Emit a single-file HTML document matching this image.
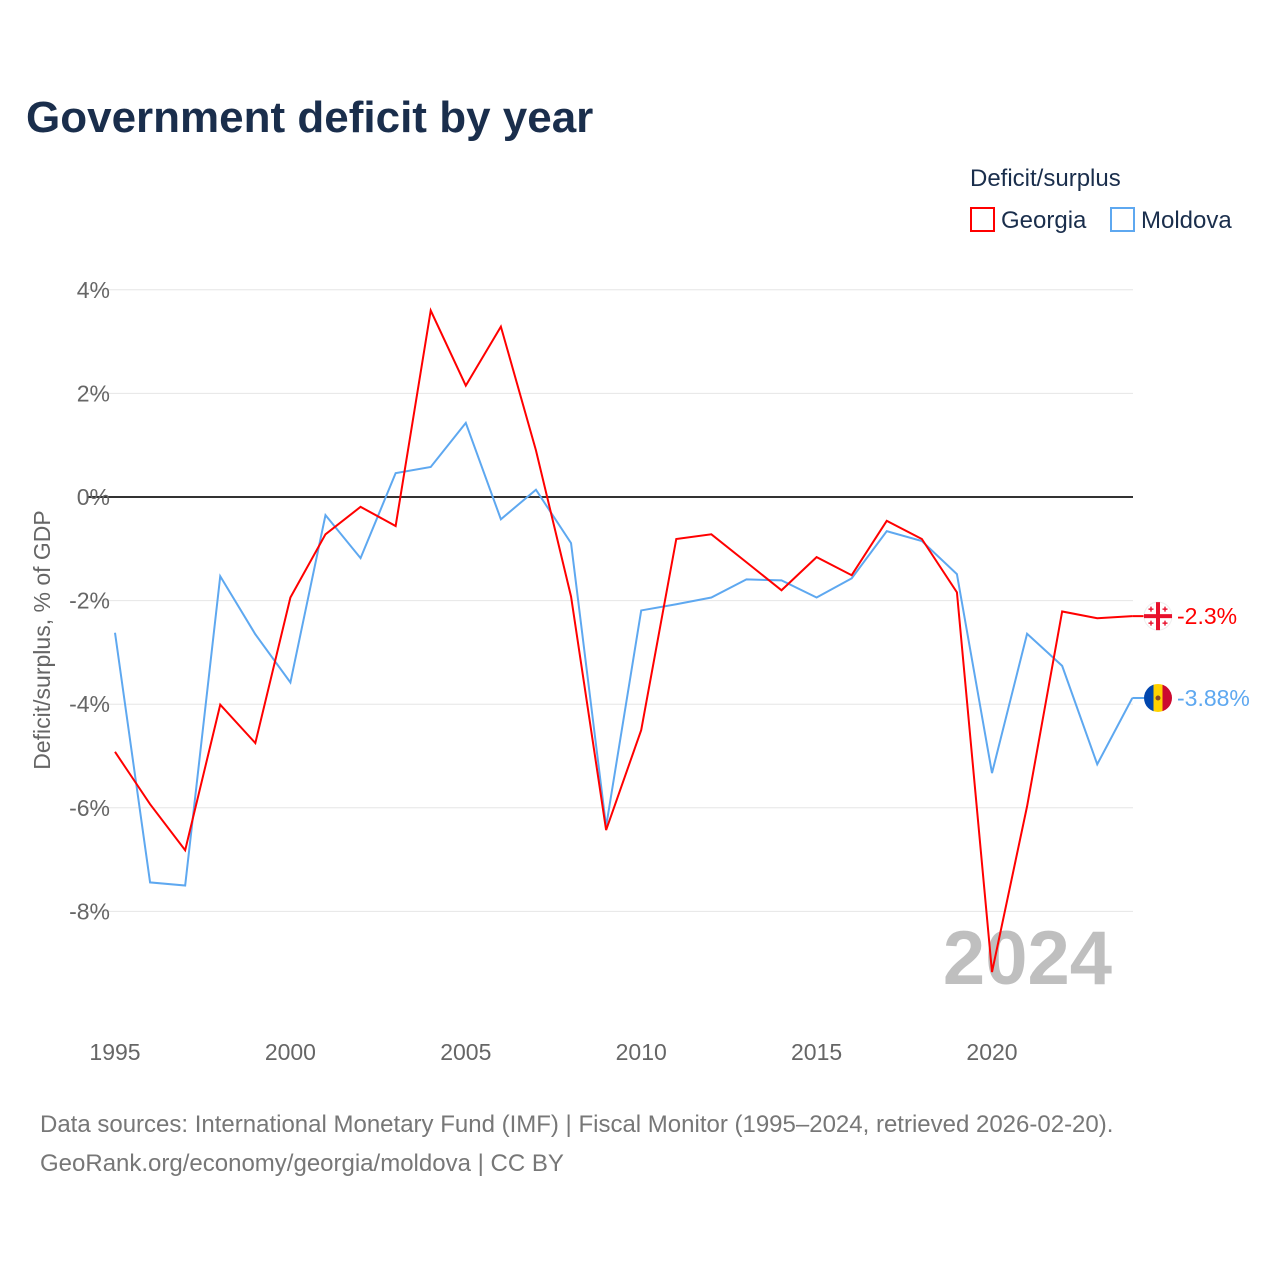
<!DOCTYPE html>
<html><head><meta charset="utf-8"><style>
body{margin:0;background:#fff;font-family:"Liberation Sans",sans-serif;}
</style></head><body>
<svg width="1280" height="1280" xmlns="http://www.w3.org/2000/svg" id="svg">
<rect width="1280" height="1280" fill="#fff"/>
<text x="26" y="132" font-size="44" font-weight="bold" fill="#1a2e4c">Government deficit by year</text>
<text x="970" y="186" font-size="24" fill="#1a2e4c">Deficit/surplus</text>
<g><rect x="971" y="208" width="23" height="23" fill="none" stroke="#ff0000" stroke-width="2"/><text x="1001" y="228" font-size="24" fill="#1a2e4c">Georgia</text></g>
<g><rect x="1111" y="208" width="23" height="23" fill="none" stroke="#5ea8f0" stroke-width="2"/><text x="1141" y="228" font-size="24" fill="#1a2e4c">Moldova</text></g>
<text x="1112" y="984" font-size="76" font-weight="bold" fill="#bfbfbf" text-anchor="end">2024</text>
<g id="grid"></g><g id="lines"></g>
<text transform="translate(50,640) rotate(-90)" font-size="23" fill="#666" text-anchor="middle">Deficit/surplus, % of GDP</text>
<text x="40" y="1132" font-size="24" fill="#777">Data sources: International Monetary Fund (IMF) | Fiscal Monitor (1995–2024, retrieved 2026-02-20).</text>
<text x="40" y="1171" font-size="24" fill="#777">GeoRank.org/economy/georgia/moldova | CC BY</text>
</svg>
<script>
const years=[1995,1996,1997,1998,1999,2000,2001,2002,2003,2004,2005,2006,2007,2008,2009,2010,2011,2012,2013,2014,2015,2016,2017,2018,2019,2020,2021,2022,2023,2024];
const georgia=[-4.92,-5.93,-6.82,-4.01,-4.75,-1.94,-0.72,-0.19,-0.56,3.6,2.15,3.29,0.9,-1.92,-6.43,-4.5,-0.81,-0.72,-1.26,-1.8,-1.16,-1.51,-0.46,-0.81,-1.84,-9.17,-5.97,-2.21,-2.34,-2.3];
const moldova=[-2.62,-7.44,-7.5,-1.53,-2.65,-3.58,-0.35,-1.18,0.46,0.58,1.43,-0.43,0.14,-0.89,-6.36,-2.19,-2.07,-1.94,-1.59,-1.61,-1.94,-1.57,-0.66,-0.85,-1.49,-5.33,-2.64,-3.26,-5.16,-3.88];
const yTicks=[4,2,0,-2,-4,-6,-8];
const xTicks=[1995,2000,2005,2010,2015,2020];
const NS="http://www.w3.org/2000/svg";
const X=y=>115+(y-1995)*35.08;
const Y=v=>497-v*51.8;
function mk(t,a,p){const e=document.createElementNS(NS,t);for(const k in a)e.setAttribute(k,a[k]);p.appendChild(e);return e;}
const grid=document.getElementById('grid'),lines=document.getElementById('lines'),svg=document.getElementById('svg');
yTicks.forEach(v=>{
 const l=mk('line',{x1:88,x2:1133,y1:Y(v),y2:Y(v),stroke:v===0?'#333':'#e6e6e6','stroke-width':v===0?2:1},grid);
 
 
 const t=mk('text',{x:110,y:Y(v)+8,'font-size':23,fill:'#666','text-anchor':'end'},grid);
 t.textContent=v+'%';
 
 
});
xTicks.forEach(v=>{
 const t=mk('text',{x:X(v),y:1060,'font-size':23,fill:'#666','text-anchor':'middle'},grid);
 t.textContent=v;
 
 
});
function line(d,c,n){
 const p=mk('polyline',{points:d.map((v,i)=>X(years[i])+','+Y(v)).join(' '),fill:'none',stroke:c,'stroke-width':2},lines);
 
 
}
line(moldova,'#5ea8f0','moldova-line');
line(georgia,'#ff0000','georgia-line');
const lx=X(2024);
const gy=Y(georgia[georgia.length-1]),my=Y(moldova[moldova.length-1]);
mk('line',{x1:lx,x2:1144,y1:gy,y2:gy,stroke:'#ff0000','stroke-width':2},lines);
mk('line',{x1:lx,x2:1144,y1:my,y2:my,stroke:'#5ea8f0','stroke-width':2},lines);
const gf=mk('g',{},lines);


mk('circle',{cx:1158,cy:gy,r:14,fill:'#fff',stroke:'#eee'},gf);
mk('rect',{x:1144,y:gy-2,width:28,height:4,fill:'#e8112d'},gf);
mk('rect',{x:1156,y:gy-14,width:4,height:28,fill:'#e8112d'},gf);
[[-7,-7],[7,-7],[-7,7],[7,7]].forEach(o=>{mk('rect',{x:1158+o[0]-2.5,y:gy+o[1]-0.7,width:5,height:1.4,fill:'#e8112d'},gf);mk('rect',{x:1158+o[0]-0.7,y:gy+o[1]-2.5,width:1.4,height:5,fill:'#e8112d'},gf);});
const gl=mk('text',{x:1177,y:gy+8,'font-size':23,fill:'#ff0000'},lines);
gl.textContent=georgia[georgia.length-1]+'%';


const mf=mk('g',{},lines);


mk('clipPath',{id:'mc'},mf);
mk('circle',{cx:1158,cy:my,r:14},document.getElementById('mc'));
const mg=mk('g',{'clip-path':'url(#mc)'},mf);
mk('rect',{x:1144,y:my-14,width:10,height:28,fill:'#0046ae'},mg);
mk('rect',{x:1153.5,y:my-14,width:9.5,height:28,fill:'#ffd200'},mg);
mk('rect',{x:1162.5,y:my-14,width:10,height:28,fill:'#cc092f'},mg);
mk('circle',{cx:1158,cy:my,r:2.5,fill:'#8a4a20'},mg);
const ml=mk('text',{x:1177,y:my+8,'font-size':23,fill:'#5ea8f0'},lines);
ml.textContent=moldova[moldova.length-1]+'%';


</script>
</body></html>
